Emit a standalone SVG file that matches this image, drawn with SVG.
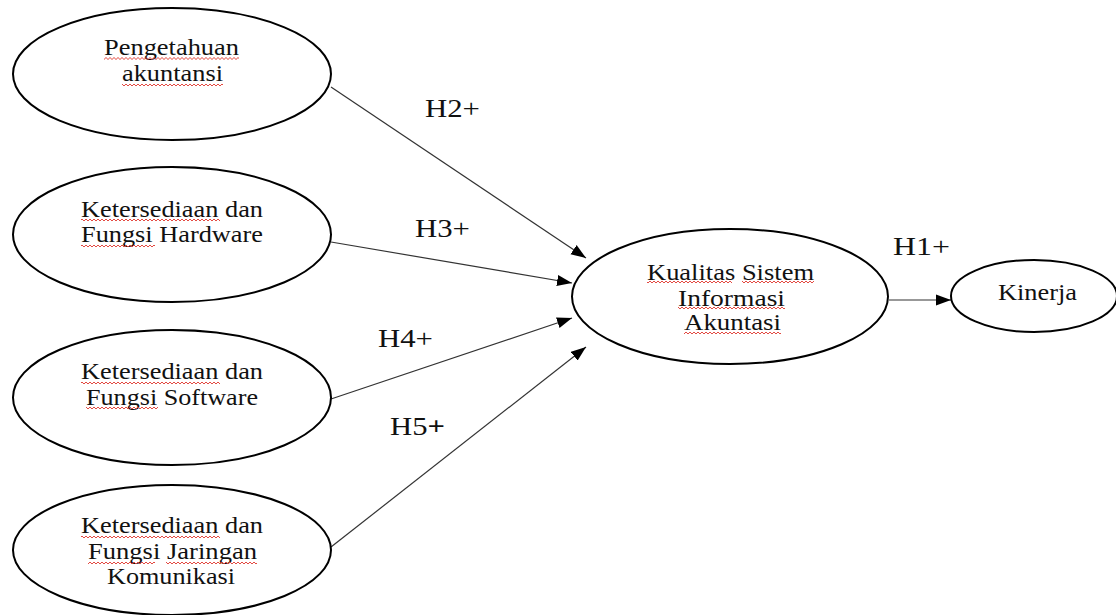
<svg xmlns="http://www.w3.org/2000/svg" width="1116" height="615" viewBox="0 0 1116 615">
  <style>
    .node ellipse { fill: #ffffff; stroke: #000000; stroke-width: 2; }
    .node text { font-family: "Liberation Serif", "Times New Roman", serif; font-size: 23px; fill: #111111; }
    .lbl { font-family: "Liberation Serif", "Times New Roman", serif; font-size: 26px; fill: #111111; }
    .edge { stroke: #333333; stroke-width: 1.2; fill: none; marker-end: url(#arrow); }
    .sq { fill: url(#wave); }
  </style>
  <defs>
    <marker id="arrow" markerUnits="userSpaceOnUse" markerWidth="16" markerHeight="12" refX="15" refY="6" orient="auto">
      <path d="M0,0.5 L15,6 L0,11.5 z" fill="#000000"/>
    </marker>
    <pattern id="wave" patternUnits="userSpaceOnUse" width="4" height="4">
      <path d="M0,3 L2,1 L4,3" fill="none" stroke="#e0362c" stroke-width="0.9"/>
    </pattern>
  </defs>
  <rect width="1116" height="615" fill="#ffffff"/>

  <g id="connectors">
    <path class="edge" d="M331,87 L586,258"/>
    <path class="edge" d="M331,242 L572,283"/>
    <path class="edge" d="M331,399 L572,318"/>
    <path class="edge" d="M331,547 L586,347"/>
    <path class="edge" d="M889,300 L951,300"/>
  </g>

  <g id="labels">
    <text class="lbl" x="425" y="117" textLength="55" lengthAdjust="spacingAndGlyphs">H2+</text>
    <text class="lbl" x="415" y="237" textLength="55" lengthAdjust="spacingAndGlyphs">H3+</text>
    <text class="lbl" x="378" y="347" textLength="55" lengthAdjust="spacingAndGlyphs">H4+</text>
    <text class="lbl" x="390" y="435" textLength="55" lengthAdjust="spacingAndGlyphs">H5<tspan font-weight="bold">+</tspan></text>
    <text class="lbl" x="893" y="255" textLength="57" lengthAdjust="spacingAndGlyphs">H1+</text>
  </g>

  <g id="node-pengetahuan" class="node">
    <ellipse cx="172" cy="74" rx="159" ry="66"/>
    <text x="104" y="55" textLength="135" lengthAdjust="spacingAndGlyphs">Pengetahuan</text>
    <text x="122" y="81" textLength="101" lengthAdjust="spacingAndGlyphs">akuntansi</text>
    <rect class="sq" x="104" y="0" width="135" height="4" transform="translate(0,56.5)"/>
    <rect class="sq" x="122" y="0" width="101" height="4" transform="translate(0,83)"/>
  </g>

  <g id="node-hardware" class="node">
    <ellipse cx="172" cy="234.5" rx="159" ry="67.5"/>
    <text x="81" y="217" textLength="182" lengthAdjust="spacingAndGlyphs">Ketersediaan dan</text>
    <text x="81" y="242" textLength="182" lengthAdjust="spacingAndGlyphs">Fungsi Hardware</text>
    <rect class="sq" x="81" y="0" width="139" height="4" transform="translate(0,218)"/>
    <rect class="sq" x="81" y="0" width="74" height="4" transform="translate(0,244)"/>
  </g>

  <g id="node-software" class="node">
    <ellipse cx="172" cy="397.5" rx="159" ry="67.5"/>
    <text x="81" y="379" textLength="182" lengthAdjust="spacingAndGlyphs">Ketersediaan dan</text>
    <text x="86" y="405" textLength="172" lengthAdjust="spacingAndGlyphs">Fungsi Software</text>
    <rect class="sq" x="81" y="0" width="139" height="4" transform="translate(0,381)"/>
    <rect class="sq" x="86" y="0" width="72" height="4" transform="translate(0,406)"/>
  </g>

  <g id="node-jaringan" class="node">
    <ellipse cx="172" cy="550" rx="159" ry="65"/>
    <text x="81" y="533" textLength="182" lengthAdjust="spacingAndGlyphs">Ketersediaan dan</text>
    <text x="88" y="559" textLength="169" lengthAdjust="spacingAndGlyphs">Fungsi Jaringan</text>
    <text x="107" y="584" textLength="128" lengthAdjust="spacingAndGlyphs">Komunikasi</text>
    <rect class="sq" x="81" y="0" width="139" height="4" transform="translate(0,535)"/>
    <rect class="sq" x="88" y="0" width="67" height="4" transform="translate(0,561)"/>
    <rect class="sq" x="166" y="0" width="91" height="4" transform="translate(0,561)"/>
  </g>

  <g id="node-kualitas" class="node">
    <ellipse cx="730" cy="296.5" rx="158" ry="67.5"/>
    <text x="647" y="280" textLength="167" lengthAdjust="spacingAndGlyphs">Kualitas Sistem</text>
    <text x="678" y="306" textLength="107" lengthAdjust="spacingAndGlyphs">Informasi</text>
    <text x="684" y="330" textLength="97" lengthAdjust="spacingAndGlyphs">Akuntasi</text>
    <rect class="sq" x="647" y="0" width="85" height="4" transform="translate(0,280)"/>
    <rect class="sq" x="742" y="0" width="72" height="4" transform="translate(0,280)"/>
    <rect class="sq" x="678" y="0" width="107" height="4" transform="translate(0,306)"/>
    <rect class="sq" x="684" y="0" width="97" height="4" transform="translate(0,331)"/>
  </g>

  <g id="node-kinerja" class="node">
    <ellipse cx="1034" cy="296" rx="83" ry="36"/>
    <text x="998" y="300" textLength="79" lengthAdjust="spacingAndGlyphs">Kinerja</text>
  </g>
</svg>
